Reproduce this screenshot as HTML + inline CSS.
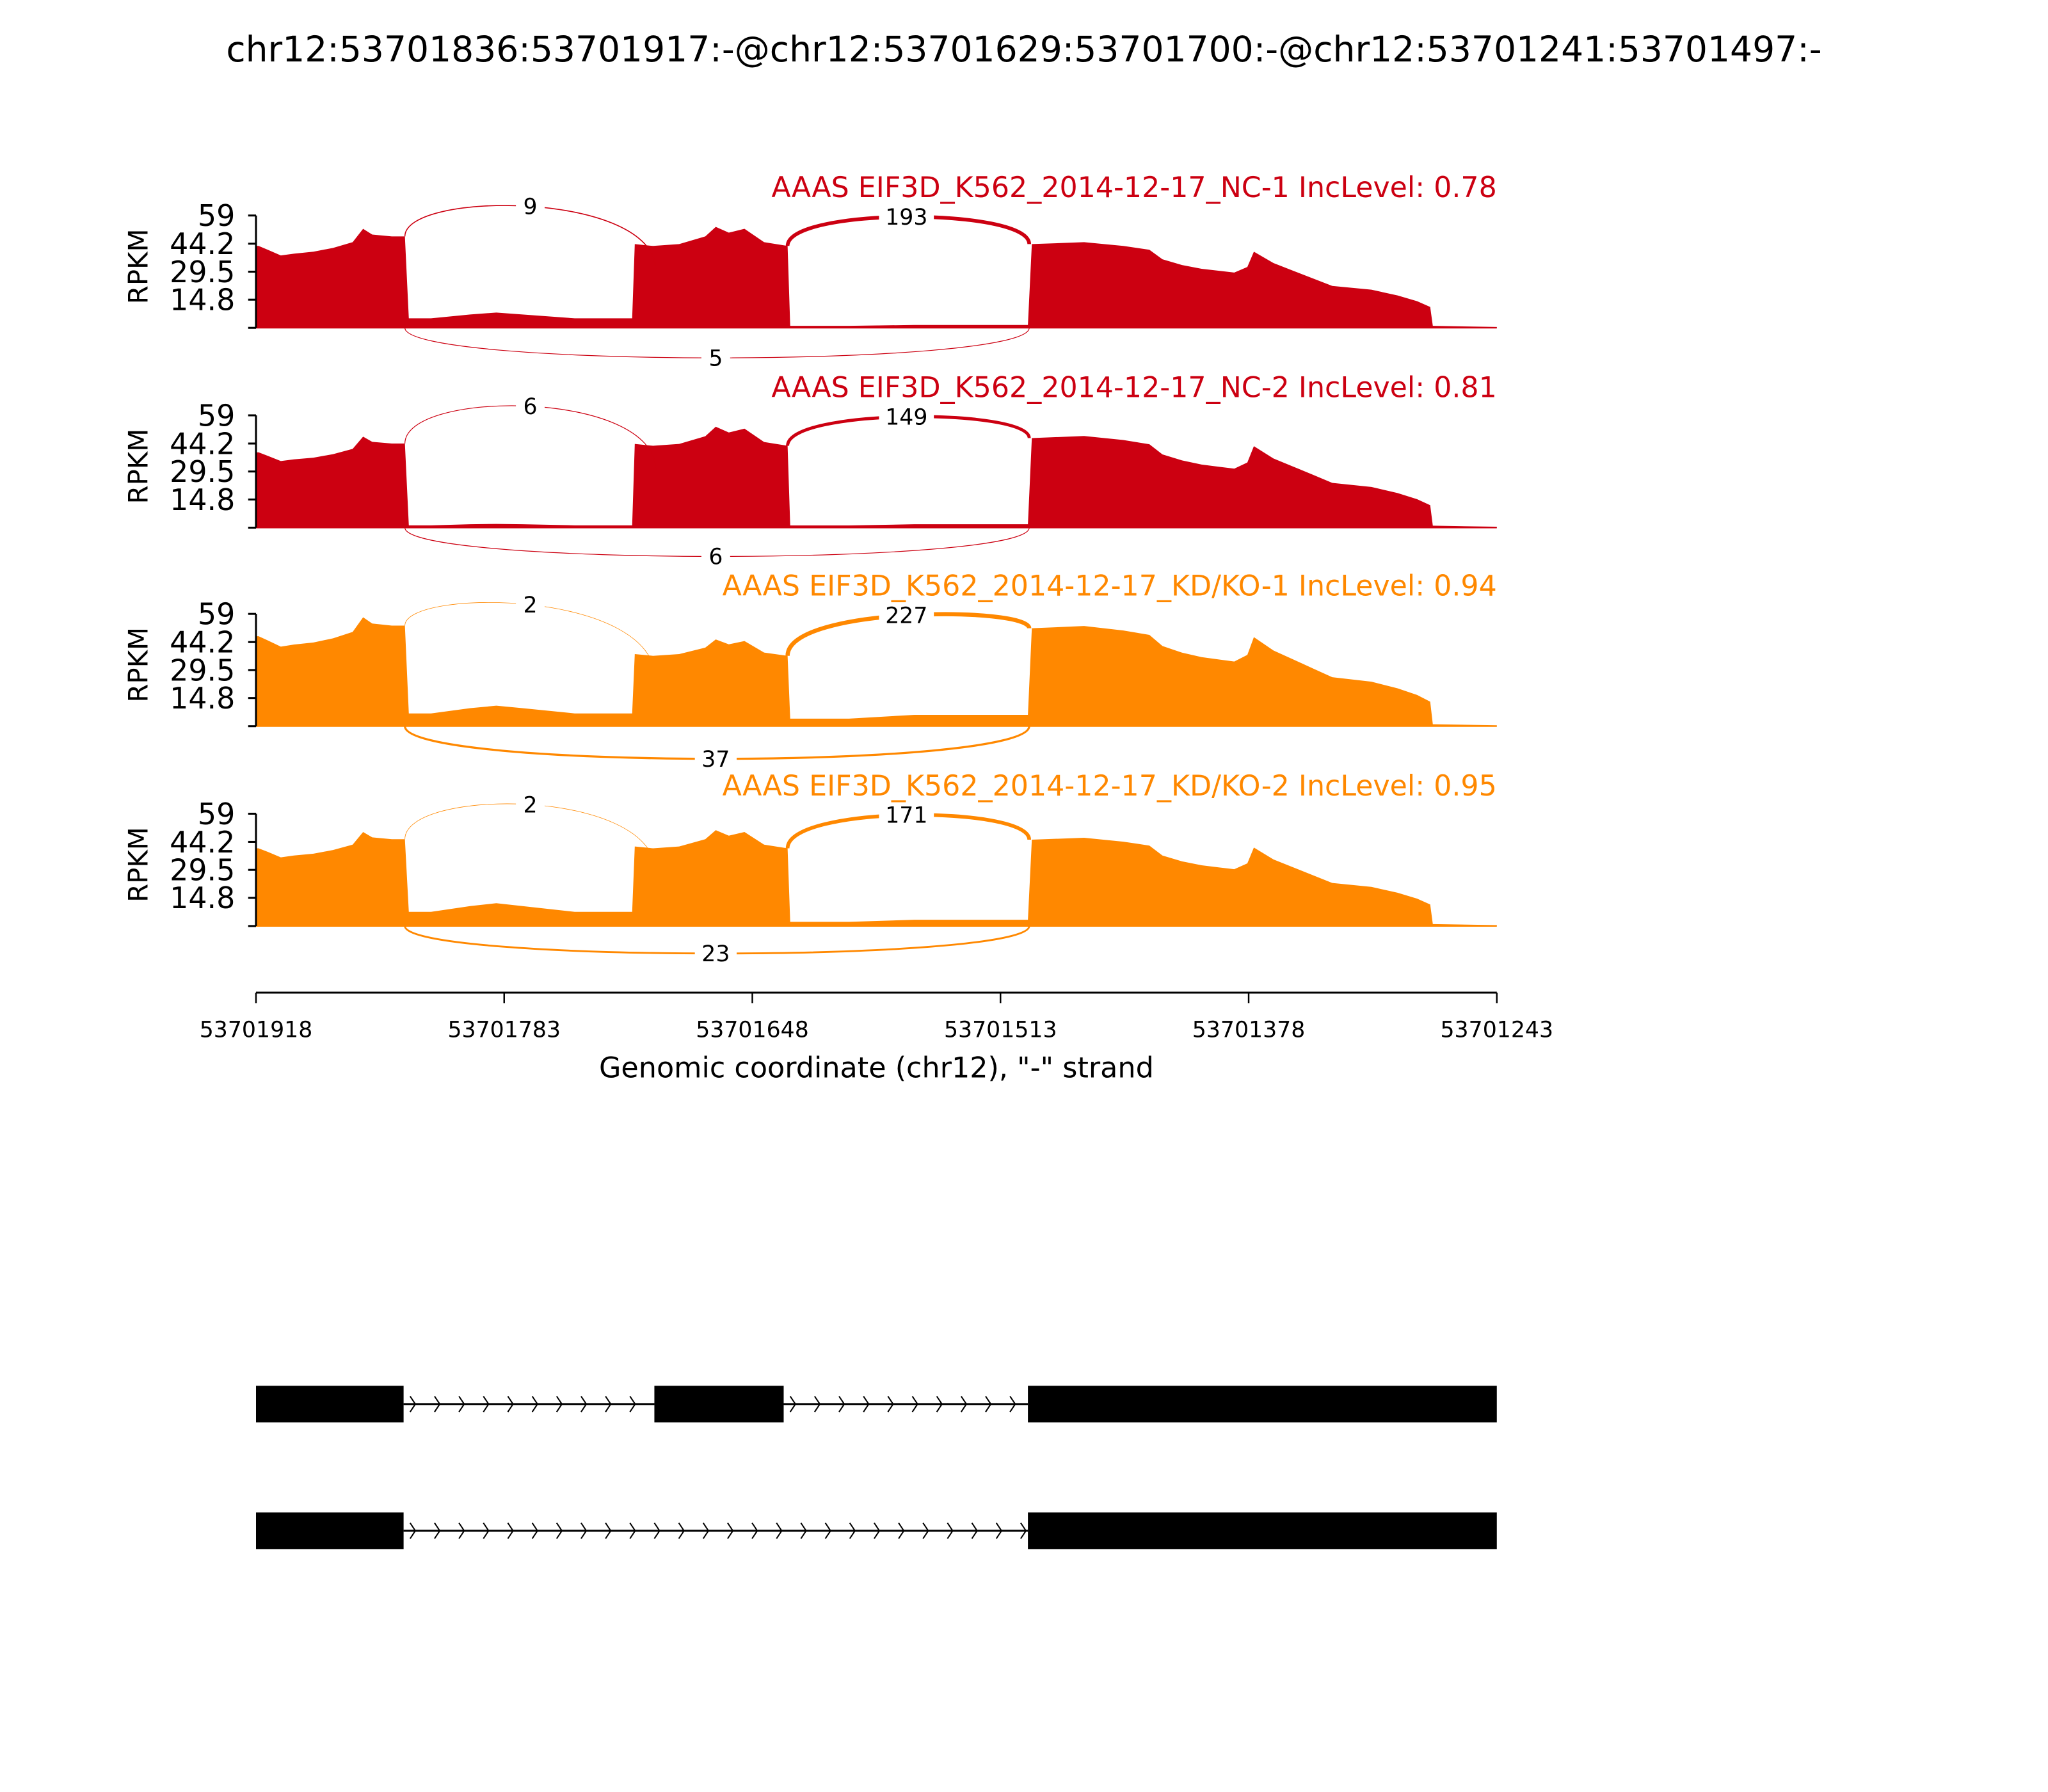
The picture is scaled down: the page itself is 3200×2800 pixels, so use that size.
<!DOCTYPE html>
<html><head><meta charset="utf-8"><style>html,body{margin:0;padding:0;background:#fff}svg{display:block}</style></head>
<body>
<svg id="s" xmlns="http://www.w3.org/2000/svg" width="3200" height="2800" viewBox="0 0 1568 1372" font-family="'DejaVu Sans','Liberation Sans',sans-serif">
<rect width="1568" height="1372" fill="#fff"/>
<text x="784" y="47" font-size="27" text-anchor="middle">chr12:53701836:53701917:-@chr12:53701629:53701700:-@chr12:53701241:53701497:-</text>
<g id="panels"></g>
<line x1="196" y1="760" x2="1146" y2="760" stroke="#000" stroke-width="1.5"/>
<g stroke="#000" stroke-width="1.2">
<line x1="196" y1="760" x2="196" y2="768"/><line x1="386" y1="760" x2="386" y2="768"/><line x1="576" y1="760" x2="576" y2="768"/><line x1="766" y1="760" x2="766" y2="768"/><line x1="956" y1="760" x2="956" y2="768"/><line x1="1146" y1="760" x2="1146" y2="768"/>
</g>
<g font-size="17" text-anchor="middle">
<text x="196" y="794">53701918</text><text x="386" y="794">53701783</text><text x="576" y="794">53701648</text><text x="766" y="794">53701513</text><text x="956" y="794">53701378</text><text x="1146" y="794">53701243</text>
</g>
<text x="671" y="825" font-size="21.8" text-anchor="middle">Genomic coordinate (chr12), "-" strand</text>
<g id="genes"></g>
</svg>
<script>
var NS="http://www.w3.org/2000/svg";
function el(t,a,p,txt){var e=document.createElementNS(NS,t);for(var k in a)e.setAttribute(k,a[k]);if(txt!==undefined)e.textContent=txt;p.appendChild(e);return e;}
var segs=[
 [[198,43],[205,41],[215,38],[225,39],[240,40],[255,42],[270,45],[278,52],[285,49],[300,48],[310,48]],
 [[313,5],[330,5],[360,7],[380,8],[400,7],[440,5],[484,5]],
 [[486,44],[500,43],[520,44],[540,48],[548,53],[558,50],[570,52],[585,45],[603,43]],
 [[605,1],[650,1],[700,1.5],[787,1.5]],
 [[790,44],[830,45],[860,43],[880,41],[890,36],[905,33],[920,31],[945,29],[955,32],[960,40],[975,34],[990,30],[1005,26],[1020,22],[1050,20],[1070,17],[1085,14],[1095,11],[1097,1],[1146,0.5]]
];
var panels=[
 {z:251,c:"#cc0011",t:"AAAS EIF3D_K562_2014-12-17_NC-1 IncLevel: 0.78",f:[1,1,1,1,1],a:["9","193","5"],w:[0.8,2.8,0.6],bot:274},
 {z:404,c:"#cc0011",t:"AAAS EIF3D_K562_2014-12-17_NC-2 IncLevel: 0.81",f:[0.92,0.25,1.0,1.2,1.07],a:["6","149","6"],w:[0.6,2.4,0.6],bot:426},
 {z:556,c:"#ff8800",t:"AAAS EIF3D_K562_2014-12-17_KD/KO-1 IncLevel: 0.94",f:[1.1,1.35,0.86,4,1.17],a:["2","227","37"],w:[0.4,3.2,1.6],bot:581},
 {z:709,c:"#ff8800",t:"AAAS EIF3D_K562_2014-12-17_KD/KO-2 IncLevel: 0.95",f:[0.95,1.5,0.95,2.2,1.03],a:["2","171","23"],w:[0.4,2.8,1.4],bot:730}
];
var G=document.getElementById("panels"),k=86/59;
function ctrl(y1,y2,pk){return (pk-0.125*(y1+y2))/0.75;}
panels.forEach(function(p){
 var z=p.z,g=el("g",{},G);
 var d="M196 "+z+" L196 "+(z-43*p.f[0]*k).toFixed(1);
 segs.forEach(function(s,i){s.forEach(function(q){var v=Math.min(q[1]*p.f[i],58);if(i==4&&q[0]>=1097)v=q[1];var y=z-v*k;d+=" L"+q[0]+" "+y.toFixed(1);});});
 d+=" L1146 "+z+" Z";
 el("path",{d:d,fill:p.c},g);
 el("line",{x1:196,y1:z,x2:1146,y2:z,stroke:p.c,"stroke-width":1},g);
 el("line",{x1:196,y1:z-86,x2:196,y2:z,stroke:"#000","stroke-width":1.5},g);
 [[59,"59"],[44.2,"44.2"],[29.5,"29.5"],[14.8,"14.8"],[0,""]].forEach(function(t){
  var y=z-t[0]*k;el("line",{x1:190,y1:y,x2:196,y2:y,stroke:"#000","stroke-width":1.5},g);
  if(t[1])el("text",{x:180,y:y+8,"font-size":22.5,"text-anchor":"end"},g,t[1]);
 });
 el("text",{x:0,y:0,"font-size":20.5,"text-anchor":"middle",transform:"translate(113 "+(z-47)+") rotate(-90)"},g,"RPKM");
 el("text",{x:1146,y:z-100,"font-size":21.7,"text-anchor":"end",fill:p.c},g,p.t);
 var y1=z-48*p.f[0]*k, y2=z-44*p.f[2]*k+20, pk1=z-93;
 var c1=ctrl(y1,y2,pk1);
 el("path",{d:"M310 "+y1.toFixed(1)+" C310 "+c1.toFixed(1)+",502 "+c1.toFixed(1)+",502 "+y2.toFixed(1),fill:"none",stroke:p.c,"stroke-width":p.w[0]},g);
 var y3=z-43*p.f[2]*k, y4=z-44*p.f[4]*k, pk2=z-85;
 var c2=ctrl(y3,y4,pk2);
 el("path",{d:"M603 "+y3.toFixed(1)+" C603 "+c2.toFixed(1)+",788 "+c2.toFixed(1)+",788 "+y4.toFixed(1),fill:"none",stroke:p.c,"stroke-width":p.w[1]},g);
 var dd=(p.bot-z)/0.75;
 el("path",{d:"M310 "+z+" C310 "+(z+dd)+",788 "+(z+dd)+",788 "+z,fill:"none",stroke:p.c,"stroke-width":p.w[2]},g);
 var lbl=[[406,pk1,p.a[0]],[694,pk2,p.a[1]],[548,p.bot,p.a[2]]];
 lbl.forEach(function(l){var wdt=l[2].length*10+12;el("rect",{x:l[0]-wdt/2,y:l[1]-9,width:wdt,height:18,fill:"#fff"},g);el("text",{x:l[0],y:l[1]+6,"font-size":17,"text-anchor":"middle"},g,l[2]);});
});
var GG=document.getElementById("genes");
function model(yc,boxes,introns){
 introns.forEach(function(r){
  el("line",{x1:r[0],y1:yc,x2:r[1],y2:yc,stroke:"#000","stroke-width":1.5},GG);
  for(var x=r[0]+8;x<r[1];x+=18.7){el("path",{d:"M"+(x-3)+" "+(yc-6)+" L"+(x+1)+" "+yc+" L"+(x-3)+" "+(yc+6),fill:"none",stroke:"#000","stroke-width":1},GG);}
 });
 boxes.forEach(function(b){el("rect",{x:b[0],y:yc-14,width:b[1]-b[0],height:28,fill:"#000"},GG);});
}
model(1075,[[196,309],[501,600],[787,1146]],[[309,501],[600,787]]);
model(1172,[[196,309],[787,1146]],[[309,787]]);
</script>
</body></html>
